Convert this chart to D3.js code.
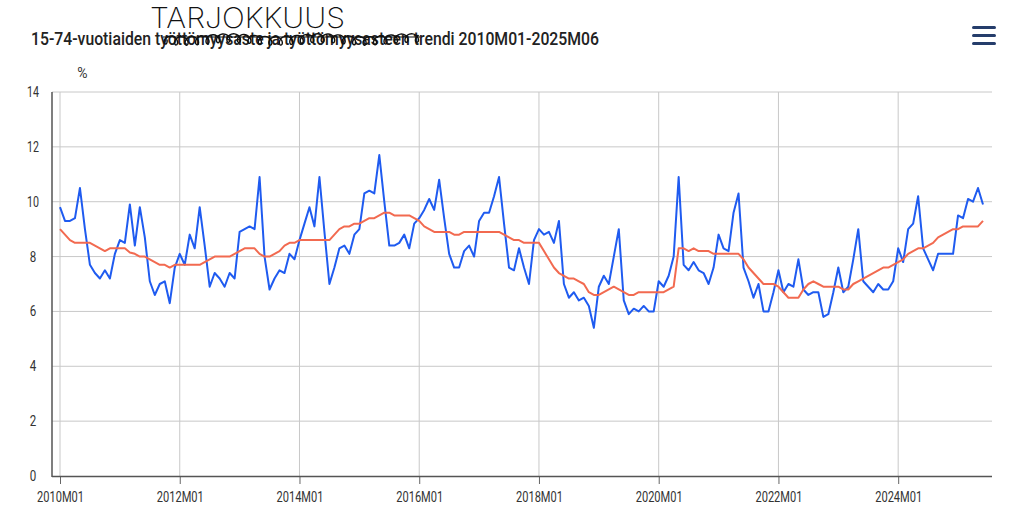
<!DOCTYPE html>
<html>
<head>
<meta charset="utf-8">
<script src="https://cdn.jsdelivr.net/npm/d3@7"></script>
<style>
  html, body { margin: 0; padding: 0; background: #fff; }
  svg { display: block; }
  text { font-family: Roboto, "Noto Sans", sans-serif; }
</style>
</head>
<body>
<svg id="chart" width="1024" height="521"></svg>
<script>
// ---- Data ----
const titleText = "15-74-vuotiaiden työttömyysaste ja työttömyysasteen trendi 2010M01-2025M06";
const handNote = "TARJOKKUUS";
const unitLabel = "%";
const startYear = 2010, endYear = 2025, endMonth = 6;

const unemploymentRate = [
  9.8, 9.3, 9.3, 9.4, 10.5, 9.0, 7.7, 7.4, 7.2, 7.5, 7.2, 8.1,
  8.6, 8.5, 9.9, 8.4, 9.8, 8.7, 7.1, 6.6, 7.0, 7.1, 6.3, 7.6,
  8.1, 7.7, 8.8, 8.3, 9.8, 8.4, 6.9, 7.4, 7.2, 6.9, 7.4, 7.2,
  8.9, 9.0, 9.1, 9.0, 10.9, 8.0, 6.8, 7.2, 7.5, 7.4, 8.1, 7.9,
  8.6, 9.2, 9.8, 9.1, 10.9, 8.9, 7.0, 7.6, 8.3, 8.4, 8.1, 8.8,
  9.0, 10.3, 10.4, 10.3, 11.7, 10.0, 8.4, 8.4, 8.5, 8.8, 8.3, 9.2,
  9.4, 9.7, 10.1, 9.7, 10.8, 9.4, 8.1, 7.6, 7.6, 8.2, 8.4, 8.0,
  9.3, 9.6, 9.6, 10.2, 10.9, 9.2, 7.6, 7.5, 8.3, 7.6, 7.0, 8.6,
  9.0, 8.8, 8.9, 8.5, 9.3, 7.0, 6.5, 6.7, 6.4, 6.5, 6.2, 5.4,
  6.9, 7.3, 7.0, 8.0, 9.0, 6.4, 5.9, 6.1, 6.0, 6.2, 6.0, 6.0,
  7.1, 6.9, 7.3, 8.0, 10.9, 7.7, 7.5, 7.8, 7.5, 7.4, 7.0, 7.6,
  8.8, 8.3, 8.2, 9.6, 10.3, 7.6, 7.1, 6.5, 7.0, 6.0, 6.0, 6.7,
  7.5, 6.7, 7.0, 6.9, 7.9, 6.8, 6.6, 6.7, 6.7, 5.8, 5.9, 6.7,
  7.6, 6.7, 6.9, 7.9, 9.0, 7.1, 6.9, 6.7, 7.0, 6.8, 6.8, 7.1,
  8.3, 7.8, 9.0, 9.2, 10.2, 8.3, 7.9, 7.5, 8.1, 8.1, 8.1, 8.1,
  9.5, 9.4, 10.1, 10.0, 10.5, 9.9
];

const unemploymentTrend = [
  9.0, 8.8, 8.6, 8.5, 8.5, 8.5, 8.5, 8.4, 8.3, 8.2, 8.3, 8.3,
  8.3, 8.3, 8.15, 8.1, 8.0, 8.0, 7.9, 7.8, 7.7, 7.7, 7.6, 7.7,
  7.7, 7.7, 7.7, 7.7, 7.7, 7.8, 7.9, 8.0, 8.0, 8.0, 8.0, 8.1,
  8.2, 8.3, 8.3, 8.3, 8.1, 8.0, 8.0, 8.1, 8.2, 8.4, 8.5, 8.5,
  8.6, 8.6, 8.6, 8.6, 8.6, 8.6, 8.6, 8.8, 9.0, 9.1, 9.1, 9.2,
  9.2, 9.3, 9.4, 9.4, 9.5, 9.6, 9.6, 9.5, 9.5, 9.5, 9.5, 9.4,
  9.3, 9.1, 9.0, 8.9, 8.9, 8.9, 8.9, 8.8, 8.8, 8.9, 8.9, 8.9,
  8.9, 8.9, 8.9, 8.9, 8.9, 8.8, 8.7, 8.6, 8.6, 8.5, 8.5, 8.5,
  8.5, 8.2, 7.9, 7.6, 7.4, 7.3, 7.2, 7.2, 7.1, 7.0, 6.7, 6.6,
  6.6, 6.7, 6.8, 6.9, 6.8, 6.7, 6.6, 6.6, 6.7, 6.7, 6.7, 6.7,
  6.7, 6.7, 6.8, 6.9, 8.3, 8.3, 8.2, 8.3, 8.2, 8.2, 8.2, 8.1,
  8.1, 8.1, 8.1, 8.1, 8.1, 7.9, 7.6, 7.4, 7.2, 7.0, 7.0, 7.0,
  6.9, 6.7, 6.5, 6.5, 6.5, 6.8, 7.0, 7.1, 7.0, 6.9, 6.9, 6.9,
  6.9, 6.8, 6.8, 7.0, 7.1, 7.2, 7.3, 7.4, 7.5, 7.6, 7.6, 7.7,
  7.8, 7.9, 8.1, 8.2, 8.3, 8.3, 8.4, 8.5, 8.7, 8.8, 8.9, 9.0,
  9.0, 9.1, 9.1, 9.1, 9.1, 9.3
];

const xTickLabels = ["2010M01", "2012M01", "2014M01", "2016M01", "2018M01", "2020M01", "2022M01", "2024M01"];
const yTickValues = [0, 2, 4, 6, 8, 10, 12, 14];

// month category labels
const months = [];
for (let y = startYear; y <= endYear; y++) {
  for (let m = 1; m <= 12; m++) {
    if (y === endYear && m > endMonth) break;
    months.push(y + "M" + String(m).padStart(2, "0"));
  }
}

// ---- Layout ----
const svg = d3.select("#chart");
const plotLeft = 52, plotRight = 992, plotTop = 92, plotBottom = 476;

const x = d3.scalePoint().domain(months).range([60, 983]);
const y = d3.scaleLinear().domain([0, 14]).range([plotBottom, plotTop]);

// horizontal gridlines
svg.append("g").selectAll("line").data(yTickValues.filter(v => v > 0)).join("line")
  .attr("x1", plotLeft).attr("x2", plotRight)
  .attr("y1", d => y(d)).attr("y2", d => y(d))
  .attr("stroke", "#c8c8c8").attr("stroke-width", 1);

// vertical gridlines
svg.append("g").selectAll("line").data(xTickLabels).join("line")
  .attr("x1", d => x(d)).attr("x2", d => x(d))
  .attr("y1", plotTop).attr("y2", plotBottom)
  .attr("stroke", "#c8c8c8").attr("stroke-width", 1);

// bottom axis
const xAxis = svg.append("g")
  .attr("transform", `translate(0,${plotBottom})`)
  .call(d3.axisBottom(x).tickValues(xTickLabels).tickSize(8).tickPadding(8));
xAxis.select(".domain").remove();
xAxis.selectAll(".tick line").attr("stroke", "#666").attr("stroke-width", 1);
xAxis.selectAll(".tick text")
  .attr("fill", "#333").attr("font-size", 14)
  .attr("textLength", 47).attr("lengthAdjust", "spacingAndGlyphs")
  .style("font-family", "Roboto, sans-serif");

// axis lines
svg.append("line").attr("x1", plotLeft).attr("x2", plotRight)
  .attr("y1", plotBottom + 0.5).attr("y2", plotBottom + 0.5)
  .attr("stroke", "#555").attr("stroke-width", 1.5);
svg.append("line").attr("x1", plotLeft).attr("x2", plotLeft)
  .attr("y1", plotTop).attr("y2", plotBottom + 1)
  .attr("stroke", "#555").attr("stroke-width", 1.5);

// y tick labels
const yAxis = svg.append("g")
  .attr("transform", `translate(${plotLeft},0)`)
  .call(d3.axisLeft(y).tickValues(yTickValues).tickSize(0).tickPadding(0));
yAxis.select(".domain").remove();
yAxis.selectAll(".tick text")
  .attr("x", 33 - plotLeft)
  .attr("text-anchor", "middle")
  .attr("fill", "#333").attr("font-size", 14)
  .attr("textLength", d => d >= 10 ? 12 : 6.5).attr("lengthAdjust", "spacingAndGlyphs")
  .style("font-family", "Roboto, sans-serif");

// unit label
svg.append("text").attr("x", 82.5).attr("y", 78).attr("text-anchor", "middle")
  .attr("font-size", 14).attr("fill", "#333").text(unitLabel);

// lines
const line = d3.line().x((d, i) => x(months[i])).y(d => y(d));
svg.append("path").datum(unemploymentRate)
  .attr("fill", "none").attr("stroke", "#1f5bf0").attr("stroke-width", 2)
  .attr("stroke-linejoin", "round").attr("d", line);
svg.append("path").datum(unemploymentTrend)
  .attr("fill", "none").attr("stroke", "#f26a50").attr("stroke-width", 2)
  .attr("stroke-linejoin", "round").attr("d", line);

// title
svg.append("text").attr("x", 31).attr("y", 45)
  .attr("font-size", 18).attr("font-weight", 500).attr("fill", "#222")
  .attr("textLength", 568).attr("lengthAdjust", "spacingAndGlyphs")
  .text(titleText);

// scribble over part of the title
const scribblePts = [];
for (let t = 0; t <= 258; t += 1) {
  const a = t * 0.6;
  scribblePts.push([163 + t + 4 * Math.cos(a), 39.5 + 4.5 * Math.sin(a) + 1.5 * Math.sin(t * 0.07)]);
}
svg.append("path").attr("d", d3.line().curve(d3.curveBasis)(scribblePts))
  .attr("fill", "none").attr("stroke", "#111").attr("stroke-width", 1.4);
svg.append("path").attr("d", d3.line()([[163, 37], [420, 37]]))
  .attr("fill", "none").attr("stroke", "#111").attr("stroke-width", 1.2);

// handwritten note
svg.append("text").attr("x", 150).attr("y", 28)
  .attr("font-size", 28).attr("font-weight", 200).attr("fill", "#111")
  .attr("textLength", 195).attr("lengthAdjust", "spacingAndGlyphs")
  .style("font-family", "Inter, 'Noto Sans', sans-serif")
  .text(handNote);

// hamburger menu icon
svg.append("g").selectAll("rect").data([0, 1, 2]).join("rect")
  .attr("x", 972).attr("width", 24).attr("height", 3).attr("rx", 1.5)
  .attr("y", d => 26 + d * 8)
  .attr("fill", "#253d6b");
</script>
</body>
</html>
